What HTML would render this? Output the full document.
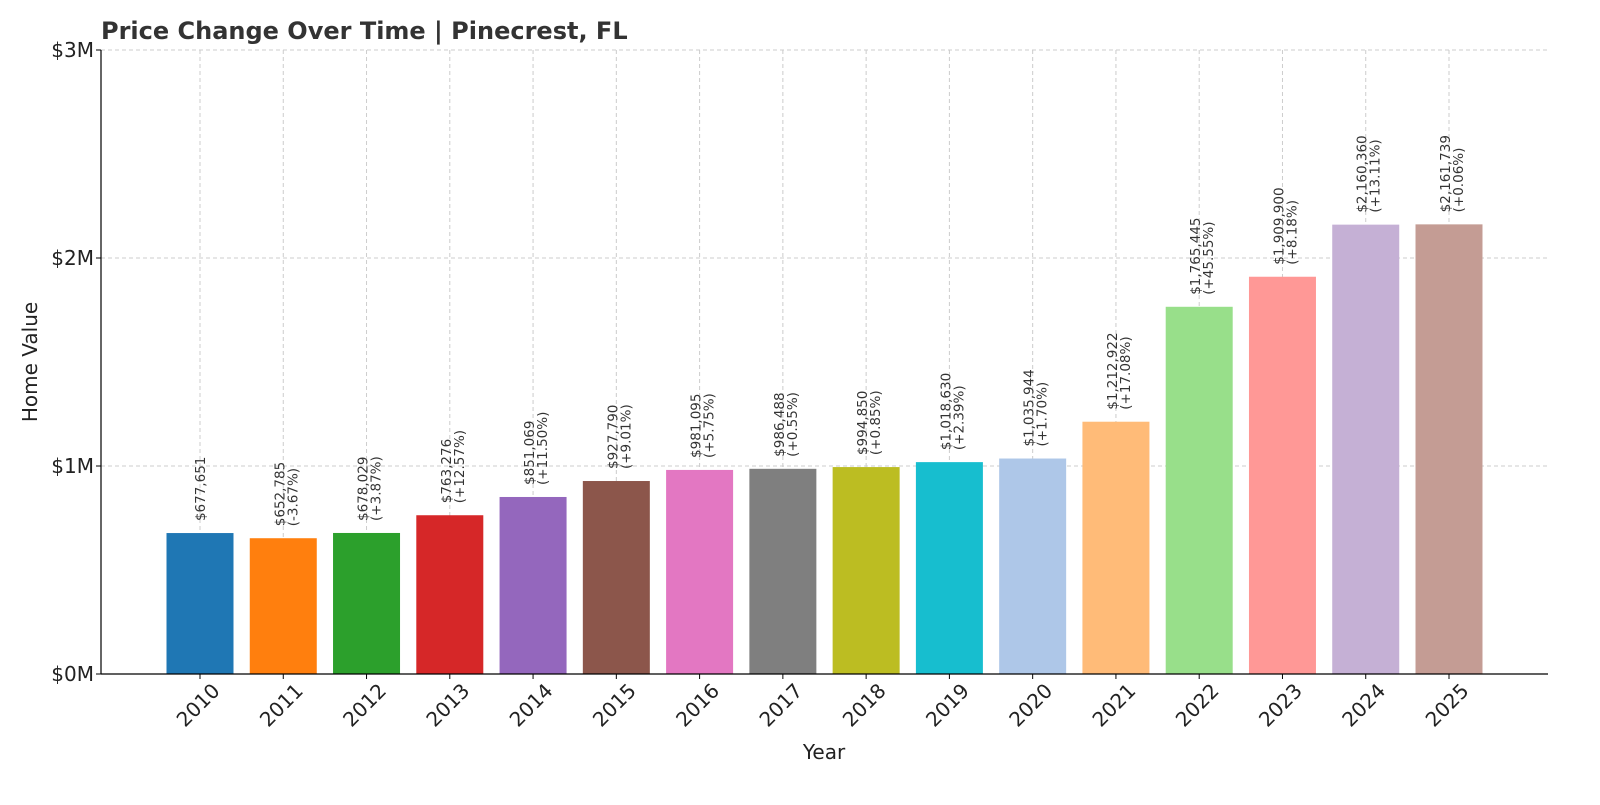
<!DOCTYPE html>
<html><head><meta charset="utf-8"><style>
body{margin:0;background:#fff;}
svg text{font-family:"DejaVu Sans","Liberation Sans",sans-serif;}
</style></head><body>
<svg id="chart" width="1600" height="800" xmlns="http://www.w3.org/2000/svg">
<text x="101" y="39" font-size="24" font-weight="bold" fill="#333">Price Change Over Time | Pinecrest, FL</text>
<g id="grid"></g>
<g id="bars"></g>
<g id="labels"></g>
<g id="axes"></g>
<text x="37" y="362" font-size="20" fill="#222" text-anchor="middle" transform="rotate(-90 37 362)">Home Value</text>
<text x="824" y="759" font-size="20" fill="#222" text-anchor="middle">Year</text>
</svg>
<script>
const years=["2010","2011","2012","2013","2014","2015","2016","2017","2018","2019","2020","2021","2022","2023","2024","2025"];
const values=[677651,652785,678029,763276,851069,927790,981095,986488,994850,1018630,1035944,1212922,1765445,1909900,2160360,2161739];
const pctLabels=["","-3.67%","+3.87%","+12.57%","+11.50%","+9.01%","+5.75%","+0.55%","+0.85%","+2.39%","+1.70%","+17.08%","+45.55%","+8.18%","+13.11%","+0.06%"];
const yTicks=[0,1000000,2000000,3000000];
const yTickLabels=["$0M","$1M","$2M","$3M"];
const colors=["#1f77b4","#ff7f0e","#2ca02c","#d62728","#9467bd","#8c564b","#e377c2","#7f7f7f","#bcbd22","#17becf","#aec7e8","#ffbb78","#98df8a","#ff9896","#c5b0d5","#c49c94"];
const NS="http://www.w3.org/2000/svg";
const L=101,R=1548,T=50,B=674,yMax=3000000;
const y=v=>B-(v/yMax)*(B-T);
const step=(1449-200)/15;
const x=i=>200+i*step;
const bw=67;
function mk(tag,attrs,parent){const e=document.createElementNS(NS,tag);for(const k in attrs)e.setAttribute(k,attrs[k]);parent.appendChild(e);return e;}
const grid=document.getElementById('grid'),bars=document.getElementById('bars'),labels=document.getElementById('labels'),axes=document.getElementById('axes');
yTicks.forEach((t,i)=>{
 const g=mk('line',{x1:L,x2:R,y1:y(t),y2:y(t),stroke:'#ccc','stroke-dasharray':'4,3','stroke-width':1},grid);
 
 
 const tk=mk('line',{x1:L-5,x2:L,y1:y(t),y2:y(t),stroke:'#000'},axes);
 
 
 const tx=mk('text',{x:L-7,y:y(t)+7,'font-size':20,fill:'#222','text-anchor':'end'},axes);
 tx.textContent=yTickLabels[i];
 
 
});
years.forEach((yr,i)=>{
 const cx=x(i);
 const g=mk('line',{x1:cx,x2:cx,y1:T,y2:B,stroke:'#ccc','stroke-dasharray':'4,3','stroke-width':1},grid);
 
 
 const b=mk('rect',{x:cx-bw/2,y:y(values[i]),width:bw,height:B-y(values[i]),fill:colors[i]},bars);
 
 
 const top=y(values[i])-12;
 const money='$'+values[i].toLocaleString('en-US');
 if(pctLabels[i]===''){
  const t=mk('text',{x:cx+5,y:top,'font-size':13.5,fill:'#333',transform:`rotate(-90 ${cx+5} ${top})`},labels);
  t.textContent=money;
  
  
 }else{
  const t=mk('text',{x:cx+1,y:top,'font-size':13.5,fill:'#333',transform:`rotate(-90 ${cx+1} ${top})`},labels);
  t.textContent=money;
  
  
  const t2=mk('text',{x:cx+14,y:top,'font-size':13.5,fill:'#333',transform:`rotate(-90 ${cx+14} ${top})`},labels);
  t2.textContent='('+pctLabels[i]+')';
  
  
 }
 const tk=mk('line',{x1:cx,x2:cx,y1:B,y2:B+5,stroke:'#000'},axes);
 
 
 const xl=mk('text',{x:cx-2,y:712,'font-size':20,fill:'#222','text-anchor':'middle',transform:`rotate(-45 ${cx-2} 705)`},axes);
 xl.textContent=yr;
 
 
});
const la=mk('line',{x1:L,x2:L,y1:T,y2:B,stroke:'#000','stroke-width':1.2},axes);


const ba=mk('line',{x1:L,x2:R,y1:B,y2:B,stroke:'#000','stroke-width':1.2},axes);


</script>
</body></html>
